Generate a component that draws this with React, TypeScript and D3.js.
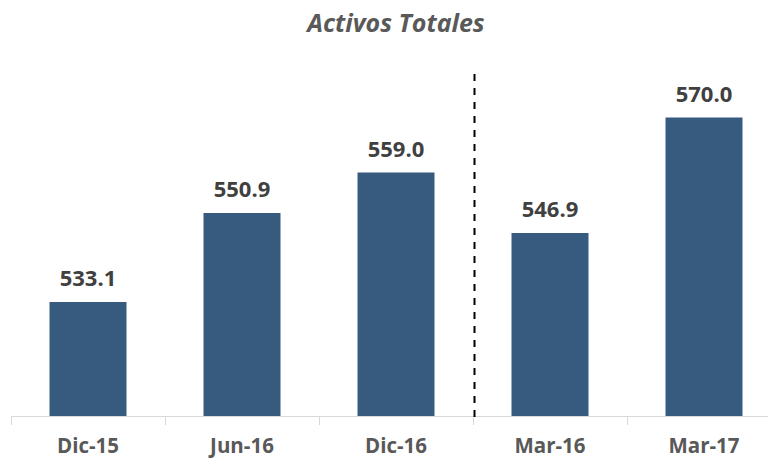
import React from "react";
import * as d3 from "d3";

const categories = ["Dic-15", "Jun-16", "Dic-16", "Mar-16", "Mar-17"];
const values = [533.1, 550.9, 559.0, 546.9, 570.0];
const title = "Activos Totales";
const dividerAfterIndex = 2;

export default function App() {
  const W = 768, H = 460;
  const band = d3.scaleBand<string>().domain(categories).range([11, 781]);
  const x = d3.scaleBand<string>().domain(categories).range([11, 781]).paddingInner(0.5).paddingOuter(0.25);
  const y = d3.scaleLinear().domain([510.3, 580.3]).range([416, 66]);
  const font = "'Open Sans', Lato, sans-serif";
  const divX = band(categories[dividerAfterIndex])! + band.bandwidth() + 1.5;
  return (
    <svg width={W} height={H} style={{ position: "absolute", left: 0, top: 0, background: "#fff" }}>
      <text x={396} y={32} textAnchor="middle" fontFamily={font} fontWeight="bold" fontStyle="italic" fontSize={25} fill="#595959">{title}</text>
      {categories.map((c, i) => (
        <g key={c}>
          <rect x={x(c)} y={y(values[i])} width={x.bandwidth()} height={416 - y(values[i])} fill="#375A7F" />
          <text x={x(c)! + x.bandwidth() / 2} y={y(values[i]) - 16} textAnchor="middle" fontFamily={font} fontWeight="bold" fontSize={22} fill="#404040">{values[i].toFixed(1)}</text>
          <text x={band(c)! + band.bandwidth() / 2} y={453} textAnchor="middle" fontFamily={font} fontWeight="bold" fontSize={20.5} fill="#595959">{c}</text>
        </g>
      ))}
      <line x1={band.range()[0]} x2={band.range()[1]} y1={416.5} y2={416.5} stroke="#d9d9d9" strokeWidth={1} />
      {categories.map((c) => (
        <line key={"t" + c} x1={Math.round(band(c)!) + 0.5} x2={Math.round(band(c)!) + 0.5} y1={416} y2={425} stroke="#d9d9d9" />
      ))}
      <line x1={divX} x2={divX} y1={74} y2={419} stroke="#000" strokeWidth={2} strokeDasharray="7,7" />
    </svg>
  );
}
